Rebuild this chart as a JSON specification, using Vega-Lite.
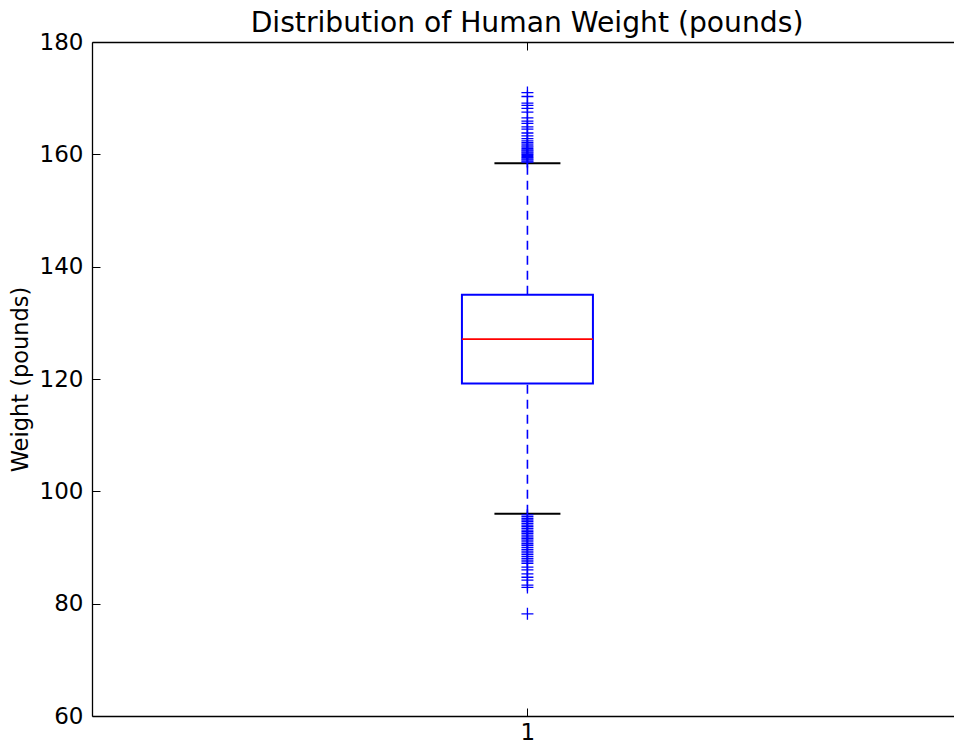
{
  "$schema": "https://vega.github.io/schema/vega-lite/v6.json",
  "width": 862,
  "height": 674,
  "autosize": {"type": "none"},
  "padding": {"left": 92, "top": 42, "right": 0, "bottom": 28},
  "background": "white",
  "config": {
    "view": {"stroke": null},
    "font": "DejaVu Sans",
    "axis": {
      "domainColor": "black",
      "domainWidth": 1.3,
      "tickColor": "black",
      "tickSize": -8,
      "tickWidth": 1,
      "labelColor": "black",
      "labelFont": "DejaVu Sans",
      "labelFontSize": 23,
      "titleFont": "DejaVu Sans",
      "titleFontSize": 22.5,
      "titleFontWeight": "normal",
      "titleColor": "black",
      "grid": false
    }
  },
  "title": {
    "text": "Distribution of Human Weight (pounds)",
    "font": "DejaVu Sans",
    "fontSize": 28.2,
    "fontWeight": "normal",
    "color": "black",
    "anchor": "middle",
    "frame": "group",
    "offset": -7,
    "dx": 4
  },
  "datasets": {
    "summary": [
      {"x": 1, "lower": 96.0, "q1": 119.2, "median": 127.1, "q3": 135.0, "upper": 158.4}
    ],
    "outliers": [
      {"x": 1, "weight": 171.0}, {"x": 1, "weight": 170.3}, {"x": 1, "weight": 169.1},
      {"x": 1, "weight": 168.7}, {"x": 1, "weight": 168.2}, {"x": 1, "weight": 167.5},
      {"x": 1, "weight": 166.5}, {"x": 1, "weight": 165.9}, {"x": 1, "weight": 165.5},
      {"x": 1, "weight": 164.9}, {"x": 1, "weight": 164.5}, {"x": 1, "weight": 163.8},
      {"x": 1, "weight": 163.3}, {"x": 1, "weight": 162.8}, {"x": 1, "weight": 162.4},
      {"x": 1, "weight": 162.1}, {"x": 1, "weight": 161.8}, {"x": 1, "weight": 161.5},
      {"x": 1, "weight": 161.3}, {"x": 1, "weight": 161.0}, {"x": 1, "weight": 160.8},
      {"x": 1, "weight": 160.6}, {"x": 1, "weight": 160.4}, {"x": 1, "weight": 160.2},
      {"x": 1, "weight": 160.0}, {"x": 1, "weight": 159.8}, {"x": 1, "weight": 159.6},
      {"x": 1, "weight": 159.4}, {"x": 1, "weight": 159.2}, {"x": 1, "weight": 159.0},
      {"x": 1, "weight": 158.8}, {"x": 1, "weight": 158.6},
      {"x": 1, "weight": 95.8}, {"x": 1, "weight": 95.5}, {"x": 1, "weight": 95.2},
      {"x": 1, "weight": 94.9}, {"x": 1, "weight": 94.6}, {"x": 1, "weight": 94.3},
      {"x": 1, "weight": 94.0}, {"x": 1, "weight": 93.7}, {"x": 1, "weight": 93.4},
      {"x": 1, "weight": 93.1}, {"x": 1, "weight": 92.8}, {"x": 1, "weight": 92.5},
      {"x": 1, "weight": 92.2}, {"x": 1, "weight": 91.9}, {"x": 1, "weight": 91.6},
      {"x": 1, "weight": 91.3}, {"x": 1, "weight": 91.0}, {"x": 1, "weight": 90.7},
      {"x": 1, "weight": 90.4}, {"x": 1, "weight": 90.0}, {"x": 1, "weight": 89.6},
      {"x": 1, "weight": 89.2}, {"x": 1, "weight": 88.8}, {"x": 1, "weight": 88.4},
      {"x": 1, "weight": 88.0}, {"x": 1, "weight": 87.6}, {"x": 1, "weight": 87.2},
      {"x": 1, "weight": 86.5}, {"x": 1, "weight": 86.0}, {"x": 1, "weight": 85.3},
      {"x": 1, "weight": 84.7}, {"x": 1, "weight": 84.2}, {"x": 1, "weight": 83.3},
      {"x": 1, "weight": 82.9}, {"x": 1, "weight": 78.2}
    ]
  },
  "resolve": {"axis": {"x": "independent"}},
  "layer": [
    {
      "data": {"name": "summary"},
      "mark": {"type": "rule", "color": "#0000ff", "strokeWidth": 1.6, "strokeDash": [9, 6]},
      "encoding": {
        "x": {"field": "x", "type": "quantitative",
              "scale": {"domain": [0.5, 1.4897], "nice": false, "zero": false},
              "axis": {"values": [1], "format": "d", "title": null, "orient": "bottom", "labelPadding": 13}},
        "y": {"field": "lower", "type": "quantitative",
              "scale": {"domain": [60, 180], "nice": false, "zero": false},
              "axis": {"values": [60, 80, 100, 120, 140, 160, 180], "title": "Weight (pounds)", "labelPadding": 17, "titlePadding": 7}},
        "y2": {"field": "q1"}
      }
    },
    {
      "data": {"name": "summary"},
      "mark": {"type": "rule", "color": "#0000ff", "strokeWidth": 1.6, "strokeDash": [9, 6]},
      "encoding": {
        "x": {"field": "x", "type": "quantitative",
              "axis": {"values": [1], "labels": false, "title": null, "orient": "top"}},
        "y": {"field": "q3", "type": "quantitative"},
        "y2": {"field": "upper"}
      }
    },
    {
      "data": {"name": "summary"},
      "mark": {"type": "bar", "size": 131, "fill": "white", "stroke": "#0000ff", "strokeWidth": 2},
      "encoding": {
        "x": {"field": "x", "type": "quantitative", "axis": null},
        "y": {"field": "q1", "type": "quantitative"},
        "y2": {"field": "q3"}
      }
    },
    {
      "data": {"name": "summary"},
      "mark": {"type": "tick", "orient": "horizontal", "size": 131, "thickness": 1.8, "color": "#ff0000", "opacity": 1},
      "encoding": {
        "x": {"field": "x", "type": "quantitative", "axis": null},
        "y": {"field": "median", "type": "quantitative"}
      }
    },
    {
      "data": {"name": "summary"},
      "mark": {"type": "tick", "orient": "horizontal", "size": 66, "thickness": 2, "color": "black", "opacity": 1},
      "encoding": {
        "x": {"field": "x", "type": "quantitative", "axis": null},
        "y": {"field": "upper", "type": "quantitative"}
      }
    },
    {
      "data": {"name": "summary"},
      "mark": {"type": "tick", "orient": "horizontal", "size": 66, "thickness": 2, "color": "black", "opacity": 1},
      "encoding": {
        "x": {"field": "x", "type": "quantitative", "axis": null},
        "y": {"field": "lower", "type": "quantitative"}
      }
    },
    {
      "data": {"name": "outliers"},
      "mark": {"type": "point", "shape": "M-1,0L1,0M0,-1L0,1", "size": 144, "filled": false, "stroke": "#0000ff", "strokeWidth": 1.3, "opacity": 1},
      "encoding": {
        "x": {"field": "x", "type": "quantitative", "axis": null},
        "y": {"field": "weight", "type": "quantitative"}
      }
    }
  ]
}
